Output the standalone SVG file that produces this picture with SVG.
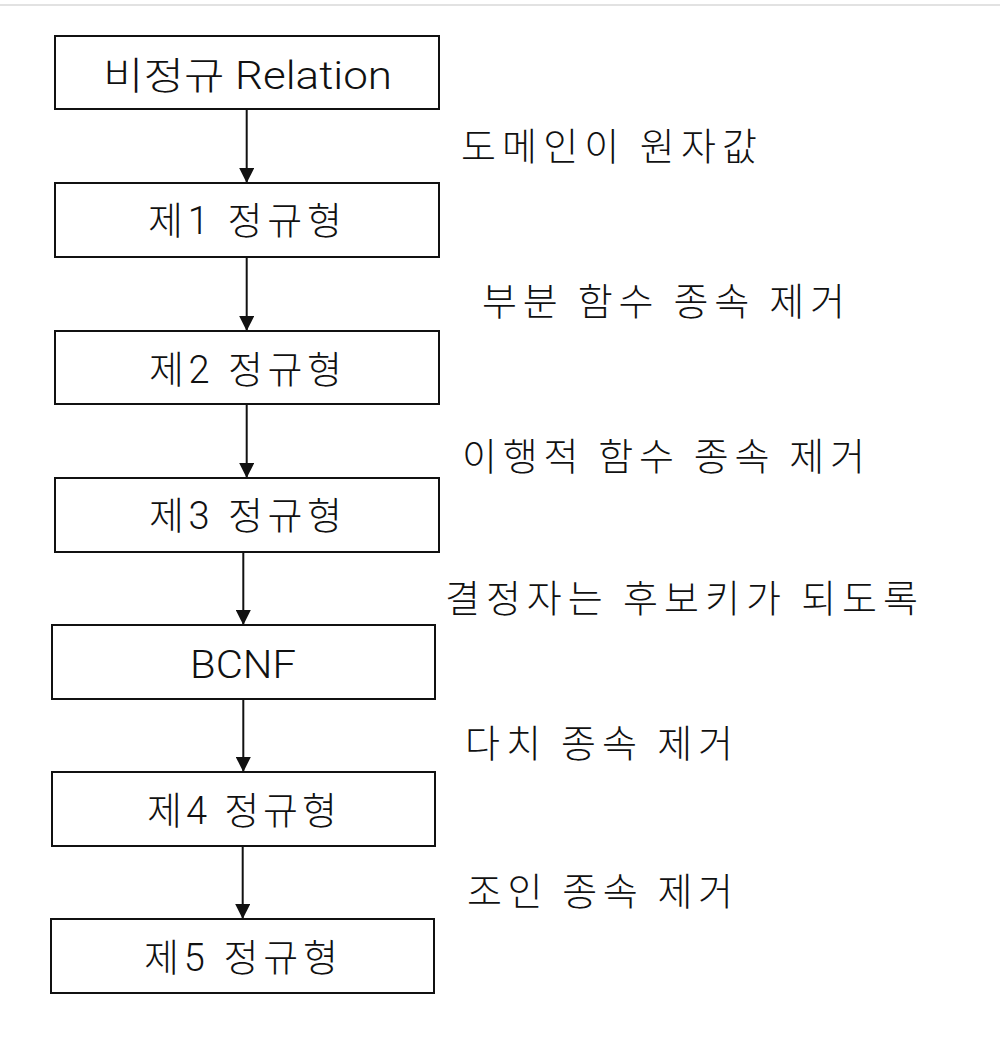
<svg xmlns="http://www.w3.org/2000/svg" width="1000" height="1062" viewBox="0 0 1000 1062">
<style>
.box{fill:#fff;stroke:#111;stroke-width:2}
.t{font-family:Roboto,"Noto Sans CJK KR",sans-serif;font-size:38px;font-weight:300;fill:#111;text-anchor:middle}
.l{font-family:"Noto Sans CJK KR",sans-serif;font-size:38px;font-weight:300;fill:#111}
.c{stroke:#111;stroke-width:2;fill:none;marker-end:url(#ah)}
</style>
<defs>
<marker id="ah" viewBox="0 0 14 14" refX="14" refY="7" markerWidth="15" markerHeight="15" markerUnits="userSpaceOnUse" orient="auto">
<path d="M0,0 L14,7 L0,14 z" fill="#111"/>
</marker>
</defs>
<rect x="0" y="0" width="1000" height="1062" fill="#fff"/>
<line x1="0" y1="5" x2="1000" y2="5" stroke="#e2e2e2" stroke-width="2"/>
<g id="connectors">
<line class="c" x1="246.7" y1="109" x2="246.7" y2="183"/>
<line class="c" x1="246.7" y1="257" x2="246.7" y2="331"/>
<line class="c" x1="246.7" y1="404" x2="246.7" y2="478"/>
<line class="c" x1="243.3" y1="552" x2="243.3" y2="625"/>
<line class="c" x1="243.3" y1="699" x2="243.3" y2="772"/>
<line class="c" x1="242.7" y1="846" x2="242.7" y2="919"/>
</g>
<g id="n1"><rect class="box" x="55" y="36" width="384" height="73"/><text class="t" x="247.5" y="89" textLength="289" lengthAdjust="spacingAndGlyphs">비정규 Relation</text></g>
<g id="n2"><rect class="box" x="55" y="183" width="384" height="74"/><text class="t" x="245" y="234" textLength="194" lengthAdjust="spacing">제1 정규형</text></g>
<g id="n3"><rect class="box" x="55" y="331" width="384" height="73"/><text class="t" x="245.5" y="383" textLength="193" lengthAdjust="spacing">제2 정규형</text></g>
<g id="n4"><rect class="box" x="55" y="478" width="384" height="74"/><text class="t" x="245.5" y="529" textLength="193" lengthAdjust="spacing">제3 정규형</text></g>
<g id="n5"><rect class="box" x="52" y="625" width="383" height="74"/><text class="t" x="243" y="677.5" textLength="106" lengthAdjust="spacingAndGlyphs">BCNF</text></g>
<g id="n6"><rect class="box" x="52" y="772" width="383" height="74"/><text class="t" x="242" y="824" textLength="190" lengthAdjust="spacing">제4 정규형</text></g>
<g id="n7"><rect class="box" x="51" y="919" width="383" height="74"/><text class="t" x="241" y="971" textLength="194" lengthAdjust="spacing">제5 정규형</text></g>
<g id="labels">
<text class="l" x="461" y="160" textLength="296" lengthAdjust="spacing">도메인이 원자값</text>
<text class="l" x="482" y="315" textLength="363" lengthAdjust="spacing">부분 함수 종속 제거</text>
<text class="l" x="462" y="470" textLength="403" lengthAdjust="spacing">이행적 함수 종속 제거</text>
<text class="l" x="445" y="612" textLength="473" lengthAdjust="spacing">결정자는 후보키가 되도록</text>
<text class="l" x="465" y="757" textLength="268" lengthAdjust="spacing">다치 종속 제거</text>
<text class="l" x="467" y="905" textLength="266" lengthAdjust="spacing">조인 종속 제거</text>
</g>
</svg>
